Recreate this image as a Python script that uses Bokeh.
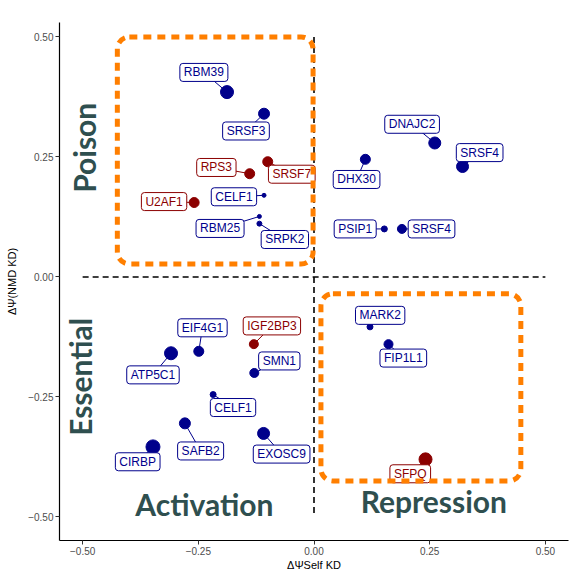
import math
from bokeh.plotting import figure
from bokeh.models import ColumnDataSource, Range1d, BoxAnnotation, FixedTicker
from bokeh.core.properties import value
from bokeh.embed import file_html
from bokeh.resources import INLINE

# ---- data ----
genes = ["RBM39", "SRSF3", "SRSF7", "RPS3", "CELF1", "U2AF1", "RBM25", "SRPK2",
         "DNAJC2", "SRSF4", "DHX30", "PSIP1", "SRSF4",
         "EIF4G1", "ATP5C1", "IGF2BP3", "SMN1", "CELF1", "SAFB2", "EXOSC9", "CIRBP",
         "MARK2", "FIP1L1", "SFPQ"]
self_kd = [-0.188, -0.108, -0.100, -0.139, -0.108, -0.259, -0.118, -0.118,
           0.261, 0.321, 0.111, 0.152, 0.190,
           -0.249, -0.309, -0.130, -0.129, -0.218, -0.279, -0.109, -0.348,
           0.121, 0.161, 0.241]
nmd_kd = [0.385, 0.340, 0.240, 0.215, 0.170, 0.155, 0.126, 0.111,
          0.279, 0.230, 0.245, 0.100, 0.100,
          -0.155, -0.159, -0.140, -0.200, -0.245, -0.305, -0.326, -0.354,
          -0.104, -0.140, -0.380]
point_size = [13, 11, 10, 10, 4, 10, 4, 5,
              12, 12, 10, 6, 9,
              10, 13, 9, 9, 6, 11, 12, 14,
              6, 9, 13]
is_red = [False, False, True, True, False, True, False, False,
          False, False, False, False, False,
          False, False, True, False, False, False, False, False,
          False, False, True]
# label positions (repelled)
label_x = [-0.238, -0.147, -0.048, -0.211, -0.173, -0.324, -0.203, -0.063,
           0.212, 0.358, 0.092, 0.089, 0.254,
           -0.241, -0.348, -0.091, -0.075, -0.175, -0.245, -0.070, -0.381,
           0.143, 0.193, 0.208]
label_y = [0.426, 0.304, 0.214, 0.228, 0.167, 0.157, 0.101, 0.078,
           0.318, 0.259, 0.203, 0.100, 0.100,
           -0.106, -0.204, -0.102, -0.175, -0.272, -0.3625, -0.369, -0.385,
           -0.080, -0.169, -0.410]

quad_text = ["Poison", "Essential", "Activation", "Repression"]
quad_x = [-0.496, -0.506, -0.237, 0.259]
quad_y = [0.269, -0.208, -0.474, -0.466]
quad_angle = [math.pi / 2, math.pi / 2, 0, 0]

# highlight boxes: left, right, top, bottom
box_left = [-0.425, 0.015]
box_right = [-0.002, 0.447]
box_top = [0.500, -0.035]
box_bottom = [0.027, -0.425]

ticks = [-0.5, -0.25, 0.0, 0.25, 0.5]
tick_labels = ["\u22120.50", "\u22120.25", "0.00", "0.25", "0.50"]

BLUE = "#00008B"
RED = "#8B0000"
colors = [RED if r else BLUE for r in is_red]

src = ColumnDataSource(dict(gene=genes, x=self_kd, y=nmd_kd, size=point_size,
                            lx=label_x, ly=label_y, color=colors))

p = figure(width=569, height=575, output_backend="svg", toolbar_location=None,
           x_range=Range1d(-0.55, 0.55), y_range=Range1d(-0.549, 0.530),
           min_border_left=59, min_border_right=1, min_border_top=22, min_border_bottom=35)
p.outline_line_color = None
p.xgrid.visible = False
p.ygrid.visible = False
p.background_fill_color = "white"
p.border_fill_color = "white"

# dashed reference lines
p.segment(x0=[ticks[0]], y0=[0], x1=[ticks[-1]], y1=[0], line_color="black",
          line_width=1.6, line_dash="6 4")
p.segment(x0=[0], y0=[ticks[-1]], x1=[0], y1=[ticks[0]], line_color="black",
          line_width=1.6, line_dash="6 4")

# connectors
p.segment(x0="lx", y0="ly", x1="x", y1="y", source=src, line_color="color", line_width=1)
# points
p.scatter(x="x", y="y", size="size", source=src, fill_color="color", line_color="color")
# labels
p.text(x="lx", y="ly", text="gene", source=src, text_color="color",
       text_font=value("Liberation Sans"), text_font_size="12px",
       text_align="center", text_baseline="middle",
       background_fill_color="white", border_line_color="color", border_line_width=1,
       padding=(4, 2), border_radius=3)

# quadrant texts
p.text(x=quad_x, y=quad_y, text=quad_text, angle=quad_angle,
       text_font=value("Lato"), text_font_style="bold", text_font_size="30px",
       text_color="#2F4F4F", text_align="center", text_baseline="middle")

for l, r, t, b in zip(box_left, box_right, box_top, box_bottom):
    p.add_layout(BoxAnnotation(left=l, right=r, top=t, bottom=b, fill_alpha=0,
                               line_color="#FF7F00", line_alpha=1.0, line_width=5,
                               line_dash="8 6", border_radius=12))

for ax in (p.xaxis[0], p.yaxis[0]):
    ax.ticker = FixedTicker(ticks=ticks)
    ax.major_label_overrides = dict(zip(ticks, tick_labels))
    ax.minor_tick_line_color = None
    ax.major_tick_in = 0
    ax.major_tick_out = 4
    ax.axis_line_color = "black"
    ax.axis_line_width = 1.2
    ax.major_tick_line_color = "#333333"
    ax.major_label_text_font = "Liberation Sans"
    ax.major_label_text_font_size = "10px"
    ax.major_label_text_color = "#4D4D4D"
    ax.axis_label_text_font = "Liberation Sans"
    ax.axis_label_text_font_size = "11px"
    ax.axis_label_text_font_style = "normal"
    ax.axis_label_text_color = "black"

p.xaxis.axis_label = "\u0394\u03a8Self KD"
p.yaxis.axis_label = "\u0394\u03a8(NMD KD)"
p.xaxis.major_label_standoff = 2
p.xaxis.axis_label_standoff = 1
p.yaxis.major_label_standoff = 2
p.yaxis.axis_label_standoff = 7

open("out.html", "w").write(file_html(p, INLINE))
